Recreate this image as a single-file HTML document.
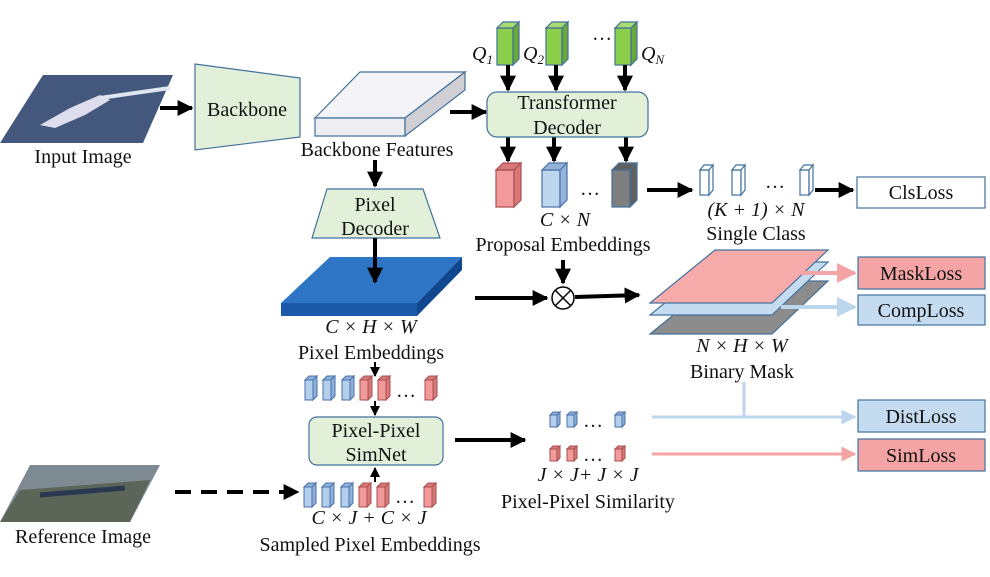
<!DOCTYPE html>
<html><head><meta charset="utf-8"><style>
html,body{margin:0;padding:0;background:#fff}
svg{display:block}
text{font-family:"Liberation Serif",serif;fill:#111}
.it{font-style:italic}
</style></head><body>
<svg width="990" height="577" viewBox="0 0 990 577" xmlns="http://www.w3.org/2000/svg">
<defs>
<marker id="ah" viewBox="0 0 10 10" refX="9" refY="5" markerWidth="4" markerHeight="4" orient="auto"><path d="M0,0 L10,5 L0,10 z" fill="#000"/></marker>
<marker id="ahs" viewBox="0 0 10 10" refX="9" refY="5" markerWidth="5" markerHeight="5" orient="auto"><path d="M0,0 L10,5 L0,10 z" fill="#000"/></marker>
<marker id="ahp" viewBox="0 0 10 10" refX="9" refY="5" markerWidth="5" markerHeight="5" orient="auto"><path d="M0,0 L10,5 L0,10 z" fill="#f4a4a4"/></marker>
<marker id="ahb" viewBox="0 0 10 10" refX="9" refY="5" markerWidth="5" markerHeight="5" orient="auto"><path d="M0,0 L10,5 L0,10 z" fill="#bcd6ee"/></marker>
<g id="cb"><rect x="0" y="4" width="8" height="20" fill="#b4cfee" stroke="#4a70a8" stroke-width="1"/><path d="M0,4 L4,0 L12,0 L8,4 z M8,4 L12,0 L12,20 L8,24 z" fill="#8fb0d8" stroke="#4a70a8" stroke-width="1"/></g>
<g id="cp"><rect x="0" y="4" width="8" height="20" fill="#f29a9a" stroke="#a85050" stroke-width="1"/><path d="M0,4 L4,0 L12,0 L8,4 z M8,4 L12,0 L12,20 L8,24 z" fill="#d87878" stroke="#a85050" stroke-width="1"/></g>
<g id="sb"><rect x="0" y="3" width="7" height="12" fill="#b4cfee" stroke="#4a70a8" stroke-width="1"/><path d="M0,3 L3,0 L10,0 L7,3 z M7,3 L10,0 L10,12 L7,15 z" fill="#8fb0d8" stroke="#4a70a8" stroke-width="1"/></g>
<g id="sp"><rect x="0" y="3" width="7" height="12" fill="#f29a9a" stroke="#a85050" stroke-width="1"/><path d="M0,3 L3,0 L10,0 L7,3 z M7,3 L10,0 L10,12 L7,15 z" fill="#d87878" stroke="#a85050" stroke-width="1"/></g>
<g id="qg"><rect x="0" y="6" width="16" height="37" fill="#8ccf4a" stroke="#41719c" stroke-width="1.2"/><path d="M0,6 L6,0 L22,0 L16,6 z" fill="#a8dc70" stroke="#41719c" stroke-width="1.2"/><path d="M16,6 L22,0 L22,37 L16,43 z" fill="#6aa83a" stroke="#41719c" stroke-width="1.2"/></g>
</defs>

<polygon points="43,75 173,75 143,143 0,143" fill="#44587e"/>
<path d="M40,125 L70,108 L100,95 L110,100 L85,115 L55,128 z" fill="#dde"/>
<path d="M100,98 L170,88" stroke="#dfe6ee" stroke-width="4"/>
<text x="83" y="163" font-size="20" text-anchor="middle">Input Image</text>
<line x1="160" y1="108" x2="192" y2="108" stroke="#000" stroke-width="4" marker-end="url(#ah)"/>
<polygon points="195,64 300,78 300,137 195,150" fill="#e2f0d9" stroke="#41719c" stroke-width="1.2"/>
<text x="247" y="116" font-size="20" text-anchor="middle">Backbone</text>
<polygon points="315,118 360,72 465,72 405,118" fill="#f4f4f8" stroke="#41719c" stroke-width="1.2"/>
<polygon points="315,118 405,118 405,136 315,136" fill="#eeeef2" stroke="#41719c" stroke-width="1.2"/>
<polygon points="405,118 465,72 465,90 405,136" fill="#d0d0d4" stroke="#41719c" stroke-width="1.2"/>
<text x="377" y="156" font-size="20" text-anchor="middle">Backbone Features</text>
<line x1="450" y1="112" x2="486" y2="112" stroke="#000" stroke-width="4" marker-end="url(#ah)"/>
<use href="#qg" x="497" y="22"/><use href="#qg" x="546" y="22"/><use href="#qg" x="615" y="22"/>
<text x="472" y="60" font-size="20" class="it">Q<tspan font-size="13" dy="4">1</tspan></text>
<text x="523" y="60" font-size="20" class="it">Q<tspan font-size="13" dy="4">2</tspan></text>
<text x="592" y="40" font-size="20">…</text>
<text x="641" y="60" font-size="20" class="it">Q<tspan font-size="13" dy="4">N</tspan></text>
<g stroke="#000" stroke-width="4">
<line x1="508" y1="65" x2="508" y2="90" marker-end="url(#ah)"/>
<line x1="556" y1="65" x2="556" y2="90" marker-end="url(#ah)"/>
<line x1="625" y1="65" x2="625" y2="90" marker-end="url(#ah)"/>
<line x1="508" y1="137" x2="508" y2="161" marker-end="url(#ah)"/>
<line x1="554" y1="137" x2="554" y2="161" marker-end="url(#ah)"/>
<line x1="626" y1="137" x2="626" y2="161" marker-end="url(#ah)"/>
</g>
<rect x="487" y="92" width="161" height="45" rx="10" fill="#e2f0d9" stroke="#41719c" stroke-width="1.2"/>
<text x="567" y="109" font-size="20" text-anchor="middle">Transformer</text>
<text x="567" y="134" font-size="20" text-anchor="middle">Decoder</text>
<g stroke-width="1.2">
<rect x="496" y="170" width="18" height="37" fill="#f29a9a" stroke="#a85050"/><path d="M496,170 L503,163 L521,163 L514,170 z M514,170 L521,163 L521,200 L514,207 z" fill="#d87878" stroke="#a85050"/>
<rect x="542" y="170" width="18" height="37" fill="#bcd6ee" stroke="#4a70a8"/><path d="M542,170 L549,163 L567,163 L560,170 z M560,170 L567,163 L567,200 L560,207 z" fill="#93b3d8" stroke="#4a70a8"/>
<rect x="612" y="170" width="18" height="37" fill="#7f7f7f" stroke="#41719c"/><path d="M612,170 L619,163 L637,163 L630,170 z M630,170 L637,163 L637,200 L630,207 z" fill="#5f5f5f" stroke="#41719c"/>
</g>
<text x="580" y="195" font-size="20">…</text>
<text x="565" y="226" font-size="20" text-anchor="middle" class="it">C × N</text>
<text x="563" y="251" font-size="20" text-anchor="middle">Proposal Embeddings</text>
<line x1="647" y1="190" x2="692" y2="190" stroke="#000" stroke-width="4" marker-end="url(#ah)"/>
<g fill="#fff" stroke="#41719c" stroke-width="1.2">
<rect x="700" y="170" width="9" height="25"/><path d="M700,170 L704,165 L713,165 L709,170 z M709,170 L713,165 L713,190 L709,195 z"/>
<rect x="732" y="170" width="9" height="25"/><path d="M732,170 L736,165 L745,165 L741,170 z M741,170 L745,165 L745,190 L741,195 z"/>
<rect x="800" y="170" width="9" height="25"/><path d="M800,170 L804,165 L813,165 L809,170 z M809,170 L813,165 L813,190 L809,195 z"/>
</g>
<text x="765" y="188" font-size="20">…</text>
<text x="756" y="216" font-size="20" text-anchor="middle" class="it">(K + 1) × N</text>
<text x="756" y="240" font-size="20" text-anchor="middle">Single Class</text>
<line x1="815" y1="190" x2="853" y2="190" stroke="#000" stroke-width="4" marker-end="url(#ah)"/>
<rect x="857" y="177" width="128" height="31" fill="#fff" stroke="#41719c" stroke-width="1.2"/>
<text x="921" y="199" font-size="20" text-anchor="middle">ClsLoss</text>
<line x1="375" y1="160" x2="375" y2="186" stroke="#000" stroke-width="4" marker-end="url(#ah)"/>
<polygon points="327,189 423,189 440,238 312,238" fill="#e2f0d9" stroke="#41719c" stroke-width="1.2"/>
<text x="375" y="211" font-size="20" text-anchor="middle">Pixel</text>
<text x="375" y="235" font-size="20" text-anchor="middle">Decoder</text>
<polygon points="330,257 462,257 417,303 281,303" fill="#2e75c6"/>
<polygon points="281,303 417,303 417,316 281,316" fill="#1a5aa8"/>
<polygon points="417,303 462,257 462,270 417,316" fill="#104890"/>
<line x1="375" y1="238" x2="375" y2="282" stroke="#000" stroke-width="4" marker-end="url(#ah)"/>
<text x="371" y="333" font-size="20" text-anchor="middle" class="it">C × H × W</text>
<text x="371" y="359" font-size="20" text-anchor="middle">Pixel Embeddings</text>
<line x1="475" y1="298" x2="547" y2="298" stroke="#000" stroke-width="4" marker-end="url(#ah)"/>
<line x1="563" y1="260" x2="563" y2="283" stroke="#000" stroke-width="4" marker-end="url(#ah)"/>
<circle cx="563" cy="298" r="11" fill="#fff" stroke="#000" stroke-width="1.5"/>
<path d="M555,290 L571,306 M571,290 L555,306" stroke="#000" stroke-width="1.5"/>
<line x1="575" y1="297" x2="639" y2="295" stroke="#000" stroke-width="4" marker-end="url(#ah)"/>
<polygon points="715,281 828,281 772,334 650,334" fill="#8c8c8c" stroke="#41719c" stroke-width="1.2"/>
<polygon points="715,262 828,262 772,315 650,315" fill="#c5dcf0" stroke="#41719c" stroke-width="1.2"/>
<polygon points="715,250 828,250 772,303 650,303" fill="#f6aaaa" stroke="#41719c" stroke-width="1.2"/>
<line x1="800" y1="273" x2="855" y2="273" stroke="#f4a4a4" stroke-width="4" marker-end="url(#ahp)"/>
<line x1="781" y1="307" x2="855" y2="307" stroke="#bcd6ee" stroke-width="4" marker-end="url(#ahb)"/>
<rect x="858" y="257" width="127" height="32" fill="#f4a4a4" stroke="#41719c" stroke-width="1.2"/>
<text x="921" y="280" font-size="20" text-anchor="middle">MaskLoss</text>
<rect x="858" y="295" width="127" height="30" fill="#c5dcf0" stroke="#41719c" stroke-width="1.2"/>
<text x="921" y="317" font-size="20" text-anchor="middle">CompLoss</text>
<text x="742" y="352" font-size="20" text-anchor="middle" class="it">N × H × W</text>
<text x="742" y="378" font-size="20" text-anchor="middle">Binary Mask</text>
<path d="M744,382 L744,417" stroke="#bcd6ee" stroke-width="3" fill="none"/>
<line x1="652" y1="417" x2="855" y2="417" stroke="#bcd6ee" stroke-width="3" marker-end="url(#ahb)"/>
<line x1="652" y1="454" x2="855" y2="454" stroke="#f4a4a4" stroke-width="3" marker-end="url(#ahp)"/>
<rect x="858" y="400" width="127" height="32" fill="#c5dcf0" stroke="#41719c" stroke-width="1.2"/>
<text x="921" y="423" font-size="20" text-anchor="middle">DistLoss</text>
<rect x="858" y="439" width="127" height="32" fill="#f4a4a4" stroke="#41719c" stroke-width="1.2"/>
<text x="921" y="462" font-size="20" text-anchor="middle">SimLoss</text>
<line x1="375" y1="362" x2="375" y2="376" stroke="#000" stroke-width="2" marker-end="url(#ahs)"/>
<use href="#cb" x="305" y="376"/><use href="#cb" x="323" y="376"/><use href="#cb" x="342" y="376"/><use href="#cp" x="360" y="376"/><use href="#cp" x="378" y="376"/>
<text x="396" y="397" font-size="20">…</text>
<use href="#cp" x="425" y="376"/>
<line x1="375" y1="401" x2="375" y2="415" stroke="#000" stroke-width="2" marker-end="url(#ahs)"/>
<rect x="309" y="417" width="134" height="48" rx="8" fill="#e2f0d9" stroke="#41719c" stroke-width="1.2"/>
<text x="376" y="437" font-size="20" text-anchor="middle">Pixel-Pixel</text>
<text x="376" y="461" font-size="20" text-anchor="middle">SimNet</text>
<line x1="375" y1="482" x2="375" y2="468" stroke="#000" stroke-width="2" marker-end="url(#ahs)"/>
<use href="#cb" x="304" y="483"/><use href="#cb" x="322" y="483"/><use href="#cb" x="341" y="483"/><use href="#cp" x="359" y="483"/><use href="#cp" x="377" y="483"/>
<text x="395" y="503" font-size="20">…</text>
<use href="#cp" x="424" y="483"/>
<text x="369" y="524" font-size="20" text-anchor="middle" class="it">C × J + C × J</text>
<text x="370" y="551" font-size="20" text-anchor="middle">Sampled Pixel Embeddings</text>
<polygon points="30,465 160,465 130,522 0,522" fill="#7d8a92"/>
<polygon points="20,490 150,480 130,522 0,522" fill="#5b6658"/>
<path d="M40,495 L125,488" stroke="#2a3850" stroke-width="5"/>
<text x="83" y="543" font-size="20" text-anchor="middle">Reference Image</text>
<line x1="175" y1="492" x2="298" y2="492" stroke="#000" stroke-width="4" stroke-dasharray="16,10" marker-end="url(#ah)"/>
<line x1="455" y1="440" x2="525" y2="440" stroke="#000" stroke-width="4" marker-end="url(#ah)"/>
<use href="#sb" x="550" y="412"/><use href="#sb" x="567" y="412"/><text x="583" y="427" font-size="20">…</text><use href="#sb" x="615" y="412"/>
<use href="#sp" x="550" y="446"/><use href="#sp" x="567" y="446"/><text x="583" y="461" font-size="20">…</text><use href="#sp" x="615" y="446"/>
<text x="588" y="481" font-size="20" text-anchor="middle" class="it">J × J+ J × J</text>
<text x="588" y="508" font-size="20" text-anchor="middle">Pixel-Pixel Similarity</text>
</svg>
</body></html>
